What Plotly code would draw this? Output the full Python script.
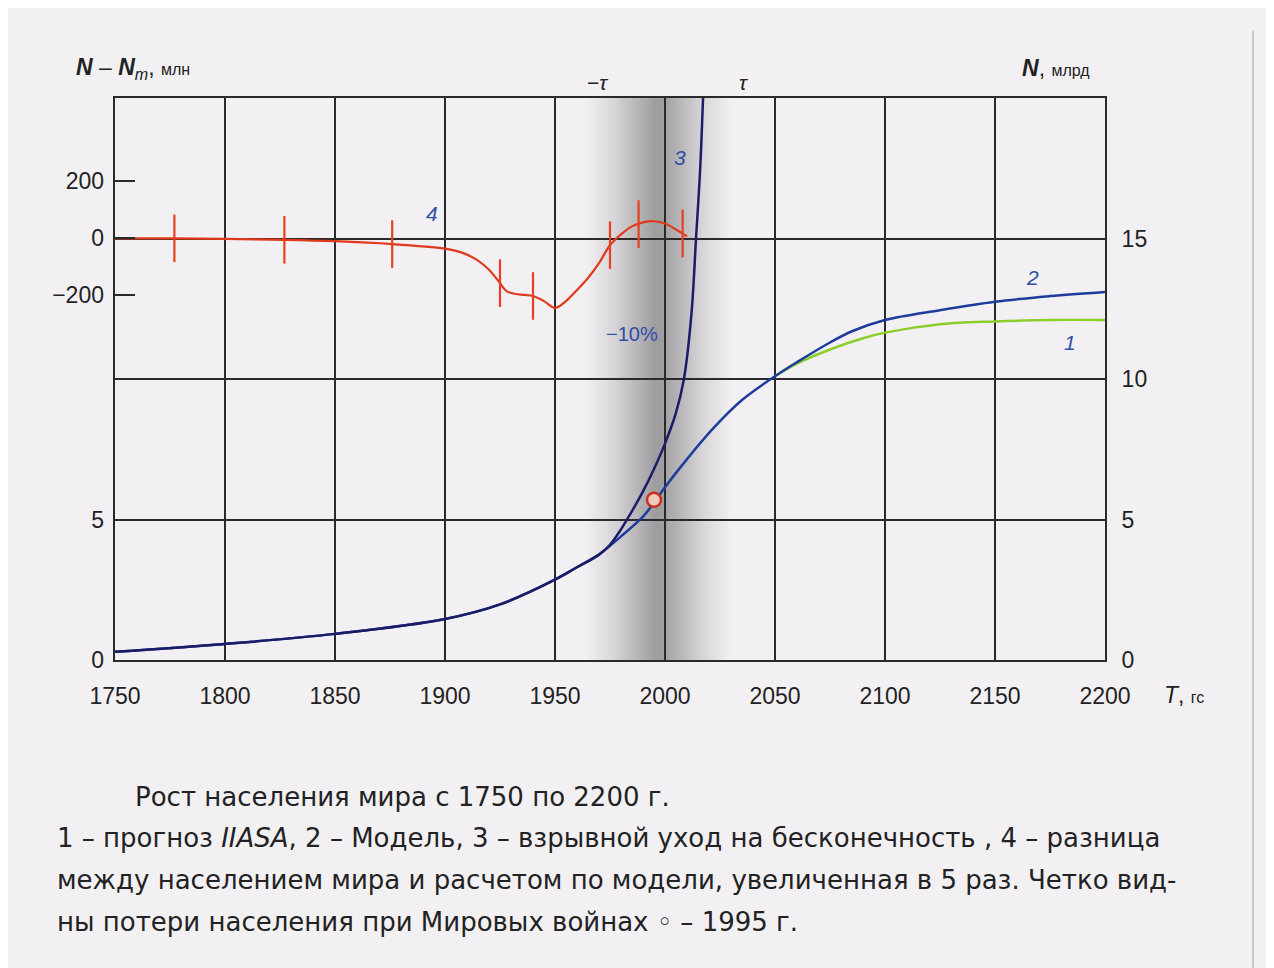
import plotly.graph_objects as go

# curve 2 - model
years_model = [1750, 1800, 1850, 1900, 1925, 1950, 1960, 1970, 1980, 1990, 1995, 2000,
               2010, 2022, 2035, 2050, 2060, 2075, 2085, 2100, 2125, 2150, 2175, 2200]
model = [0.29, 0.57, 0.93, 1.46, 1.98, 2.86, 3.3, 3.75, 4.4, 5.1, 5.6, 6.15,
         7.15, 8.25, 9.25, 10.1, 10.6, 11.3, 11.7, 12.1, 12.45, 12.75, 12.95, 13.1]

# curve 3 - blow-up to infinity
years_blowup = [1750, 1800, 1850, 1900, 1925, 1950, 1960, 1970, 1975, 1980, 1985, 1990,
                1995, 2000, 2005, 2008.6, 2012, 2014.1, 2016, 2017.3, 2018.3]
blowup = [0.29, 0.57, 0.93, 1.46, 1.98, 2.86, 3.3, 3.75, 4.1, 4.65, 5.3, 6.0,
          6.8, 7.7, 8.8, 10.0, 12.3, 15.0, 17.5, 20.0, 22.0]

# curve 1 - IIASA forecast
years_iiasa = [2050, 2060, 2075, 2090, 2100, 2125, 2150, 2175, 2200]
iiasa = [10.1, 10.55, 11.05, 11.45, 11.65, 11.95, 12.05, 12.1, 12.1]

# curve 4 - difference N - Nm (x5), mln
years_diff = [1750, 1777, 1800, 1827, 1850, 1876, 1900, 1905, 1910, 1915, 1920, 1925, 1928,
              1932, 1936, 1940, 1945, 1950, 1955, 1960, 1965, 1970, 1975, 1980, 1985,
              1990, 1995, 2000, 2005, 2010]
diff = [0, 0, -2, -5, -10, -20, -36, -44, -57, -78, -110, -157, -185,
        -195, -198, -202, -220, -244, -220, -181, -139, -87, -24, 14, 42,
        56, 60, 52, 31, 7]

# error marks on curve 4
err_years = [1777, 1827, 1876, 1925, 1940, 1975, 1988, 2008]
err_vals = [0, -5, -20, -157, -202, -24, 50, 17]

# 1995 point
point_year = [1995]
point_val = [5.7]

x_ticks = list(range(1750, 2201, 50))

FONT = "Liberation Sans, Arial, sans-serif"
CAP_FONT = "DejaVu Sans, sans-serif"
BLUE_LBL = "#2f4fa6"
BG = "#f3f0f4"

fig = go.Figure()

fig.add_trace(go.Scatter(x=years_iiasa, y=iiasa, mode="lines",
                         line=dict(color="#8ccf2a", width=2.5, shape="spline")))
fig.add_trace(go.Scatter(x=years_model, y=model, mode="lines",
                         line=dict(color="#1e3c9c", width=2.5, shape="spline")))
fig.add_trace(go.Scatter(x=years_blowup, y=blowup, mode="lines",
                         line=dict(color="#1a1d66", width=2.5, shape="spline")))
fig.add_trace(go.Scatter(x=point_year, y=point_val, mode="markers",
                         marker=dict(size=14, color="#f1c9bd",
                                     line=dict(color="#c8321e", width=2.5))))
fig.add_trace(go.Scatter(x=years_diff, y=diff, mode="lines", yaxis="y3",
                         line=dict(color="#e03a1c", width=2.2, shape="spline", smoothing=1.0)))
fig.add_trace(go.Scatter(x=err_years, y=err_vals, mode="markers", yaxis="y3",
                         marker=dict(symbol="line-ns", size=34,
                                     line=dict(color="#e8401e", width=2.2))))

# grey band around 2000 (soft gradient)
shapes = []
for hw in range(2, 34):
    op = 0.012 if hw <= 20 else 0.007
    shapes.append(dict(type="rect", xref="x", yref="paper", x0=1997 - hw, x1=1997 + hw,
                       y0=0, y1=1, fillcolor="black", opacity=op, line_width=0,
                       layer="below"))
# page edge on the right
shapes.append(dict(type="line", xref="paper", yref="paper", x0=1.1495, x1=1.1495,
                   y0=-0.55, y1=1.12, line=dict(color="#c9c7cb", width=2)))

ann = []
def add(text, x, y, xref="x", yref="y", size=20, color="#222", xanchor="center",
        italic=False, family=FONT):
    if italic:
        text = "<i>" + text + "</i>"
    ann.append(dict(text=text, x=x, y=y, xref=xref, yref=yref, showarrow=False,
                    xanchor=xanchor, yanchor="middle",
                    font=dict(family=family, size=size, color=color)))

add("1", 2184, 11.3, italic=True, color=BLUE_LBL, size=21)
add("2", 2167, 13.6, italic=True, color=BLUE_LBL, size=21)
add("3", 2007, 17.9, italic=True, color=BLUE_LBL, size=21)
add("4", 1894, 15.9, italic=True, color=BLUE_LBL, size=21)
add("−10%", 1985, 11.6, color=BLUE_LBL, size=20)
add("−<i>τ</i>", 1969.5, 1.027, yref="paper", size=21)
add("<i>τ</i>", 2035.5, 1.027, yref="paper", size=21)
add("<b><i>N</i></b> – <b><i>N</i></b><sub><i>m</i></sub>, <span style='font-size:16px'>млн</span>",
    -0.041, 1.053, xref="paper", yref="paper", size=23, xanchor="left")
add("<b><i>N</i></b>, <span style='font-size:16px'>млрд</span>",
    0.914, 1.053, xref="paper", yref="paper", size=23, xanchor="left")
add("<i>T</i>, <span style='font-size:16px'>гс</span>",
    1.0576, -0.062, xref="paper", yref="paper", size=23, xanchor="left")

cap = [
    (0.0182, -0.2438, "Рост населения мира с 1750 по 2200 г."),
    (-0.0606, -0.3167, "1 – прогноз <i>IIASA</i>, 2 – Модель, 3 – взрывной уход на бесконечность , 4 – разница"),
    (-0.0606, -0.3915, "между населением мира и расчетом по модели, увеличенная в 5 раз. Четко вид-"),
    (-0.0606, -0.4662, "ны потери населения при Мировых войнах ◦ – 1995 г."),
]
for cx, cy, t in cap:
    add(t, cx, cy, xref="paper", yref="paper", size=26, xanchor="left", family=CAP_FONT)

fig.update_layout(
    width=1274, height=968,
    margin=dict(l=107, r=177, t=90, b=316),
    paper_bgcolor=BG, plot_bgcolor=BG,
    showlegend=False,
    font=dict(family=FONT, size=20, color="#222"),
    shapes=shapes, annotations=ann,
    xaxis=dict(range=[1750, 2200], tickvals=x_ticks, showgrid=True,
               gridcolor="#2a2a2a", gridwidth=1.5, zeroline=False,
               showline=True, mirror=True, linecolor="#2a2a2a", linewidth=2,
               ticks="", ticklabelstandoff=14, tickfont=dict(size=23)),
    yaxis=dict(range=[0, 20], side="right", tickvals=[0, 5, 10, 15], showgrid=True,
               gridcolor="#2a2a2a", gridwidth=1.5, zeroline=False,
               showline=True, mirror=True, linecolor="#2a2a2a", linewidth=2,
               ticks="", ticklabelstandoff=10, tickfont=dict(size=23)),
    yaxis2=dict(range=[0, 20], overlaying="y", side="left", anchor="x",
                tickvals=[0, 5], showgrid=False, zeroline=False, showline=False,
                ticks="", ticklabelstandoff=10, tickfont=dict(size=23)),
    yaxis3=dict(range=[-1478, 492], overlaying="y", side="left", anchor="x",
                tickvals=[-200, 0, 200], ticktext=["−200", "0", "200"],
                showgrid=False, zeroline=False, showline=False,
                ticks="inside", ticklen=20, tickwidth=2, tickcolor="#2a2a2a",
                ticklabelstandoff=10, tickfont=dict(size=23)),
)

# invisible trace so that yaxis2 is drawn
fig.add_trace(go.Scatter(x=[1750], y=[0], yaxis="y2", mode="markers",
                         marker=dict(opacity=0), hoverinfo="skip"))

fig.write_html("out.html")
